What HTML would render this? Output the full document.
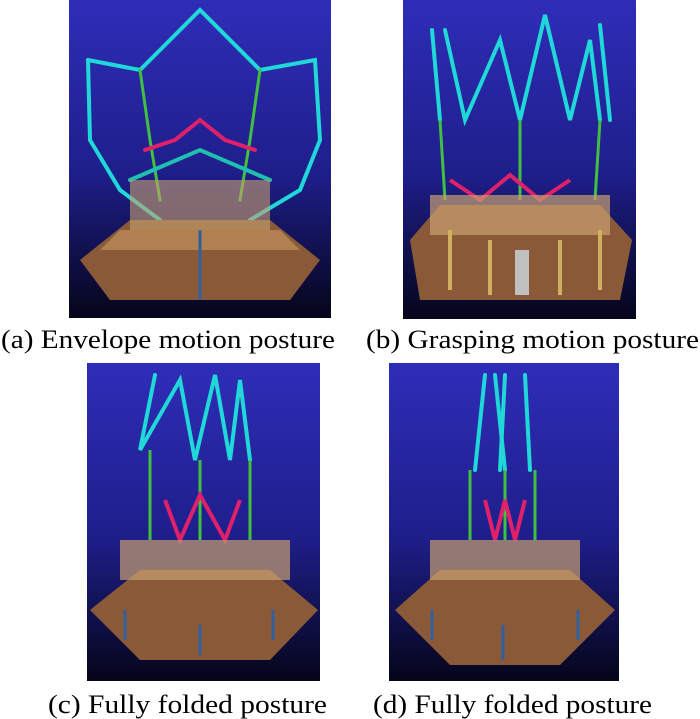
<!DOCTYPE html>
<html><head><meta charset="utf-8"><style>
html,body{margin:0;padding:0;background:#fff;width:700px;height:719px;overflow:hidden}
.cap{font-family:"Liberation Serif","Times New Roman",serif;font-size:26px;fill:#000}
</style></head><body>
<svg width="700" height="719" viewBox="0 0 700 719" xmlns="http://www.w3.org/2000/svg">
<defs>
<linearGradient id="bg" x1="0" y1="0" x2="0" y2="1">
<stop offset="0" stop-color="#2f2db8"/><stop offset="0.55" stop-color="#1e1e8a"/><stop offset="1" stop-color="#05051a"/>
</linearGradient>
</defs>
<rect x="69" y="0" width="262" height="318" fill="url(#bg)"/>
<g stroke-linecap="round" fill="none">
<polyline points="88,60 140,70 200,10 260,70 315,60 320,140" stroke="#20d8d8" stroke-width="4"/>
<polyline points="88,60 90,140 120,190 160,220" stroke="#20d8d8" stroke-width="4"/>
<polyline points="320,140 300,190 250,220" stroke="#20d8d8" stroke-width="4"/>
<polyline points="140,70 150,140 160,200" stroke="#40c040" stroke-width="3"/>
<polyline points="260,70 250,140 240,200" stroke="#40c040" stroke-width="3"/>
<polyline points="145,150 175,140 200,120 225,140 255,150" stroke="#e0206a" stroke-width="4"/>
<polyline points="130,180 200,150 270,180" stroke="#20c0b0" stroke-width="4"/>
</g>
<polygon points="80,260 130,220 270,220 320,260 290,300 110,300" fill="#8a5a38"/>
<polygon points="120,230 280,230 300,250 100,250" fill="#b08050"/>
<rect x="130" y="180" width="140" height="50" fill="#c8a070" opacity="0.6"/>
<line x1="200" y1="230" x2="200" y2="300" stroke="#3060a0" stroke-width="3"/>
<rect x="403" y="0" width="233" height="319" fill="url(#bg)"/>
<g stroke-linecap="round" fill="none" stroke="#20d8d8" stroke-width="4">
<polyline points="445,30 465,120 500,40 520,120 545,15 570,120 590,40 600,120"/>
<polyline points="432,30 440,120"/>
<polyline points="600,25 610,120"/>
</g>
<g stroke="#40c040" stroke-width="3"><line x1="440" y1="120" x2="445" y2="200"/><line x1="520" y1="120" x2="520" y2="200"/><line x1="600" y1="120" x2="595" y2="200"/></g>
<polyline points="450,180 480,200 510,175 540,200 570,180" stroke="#e0206a" stroke-width="4" fill="none"/>
<polygon points="410,240 440,205 600,205 632,240 620,300 420,300" fill="#8a5a38"/>
<rect x="430" y="195" width="180" height="40" fill="#c8a070" opacity="0.7"/>
<g stroke="#d0b060" stroke-width="4"><line x1="450" y1="230" x2="450" y2="290"/><line x1="490" y1="240" x2="490" y2="295"/><line x1="560" y1="240" x2="560" y2="295"/><line x1="600" y1="230" x2="600" y2="290"/></g>
<rect x="515" y="250" width="14" height="45" fill="#c0c0c0"/>
<rect x="87" y="363" width="233" height="318" fill="url(#bg)"/>
<g stroke-linecap="round" fill="none" stroke="#20d8d8" stroke-width="4">
<polyline points="155,375 140,450 180,380 195,460 215,375 230,460 240,380 250,460"/>
</g>
<g stroke="#40c040" stroke-width="3"><line x1="150" y1="450" x2="150" y2="540"/><line x1="200" y1="460" x2="200" y2="540"/><line x1="250" y1="460" x2="250" y2="540"/></g>
<polyline points="165,500 180,540 200,495 225,540 240,500" stroke="#e0206a" stroke-width="4" fill="none"/>
<polygon points="90,610 140,570 270,570 318,610 270,660 140,660" fill="#8a5a38"/>
<rect x="120" y="540" width="170" height="40" fill="#c8a070" opacity="0.7"/>
<g stroke="#3060a0" stroke-width="3"><line x1="125" y1="610" x2="125" y2="640"/><line x1="200" y1="625" x2="200" y2="655"/><line x1="273" y1="610" x2="273" y2="640"/></g>
<rect x="389" y="363" width="230" height="318" fill="url(#bg)"/>
<g stroke-linecap="round" fill="none" stroke="#20d8d8" stroke-width="4">
<polyline points="485,375 475,470"/><polyline points="505,375 500,470"/><polyline points="525,375 530,470"/><polyline points="495,375 505,470"/>
</g>
<g stroke="#40c040" stroke-width="3"><line x1="470" y1="470" x2="470" y2="540"/><line x1="505" y1="470" x2="505" y2="540"/><line x1="535" y1="470" x2="535" y2="540"/></g>
<polyline points="485,500 495,540 505,500 515,540 525,500" stroke="#e0206a" stroke-width="4" fill="none"/>
<polygon points="395,610 440,570 570,570 615,610 560,665 450,665" fill="#8a5a38"/>
<rect x="430" y="540" width="150" height="40" fill="#c8a070" opacity="0.7"/>
<g stroke="#3060a0" stroke-width="3"><line x1="432" y1="610" x2="432" y2="640"/><line x1="503" y1="625" x2="503" y2="660"/><line x1="578" y1="610" x2="578" y2="640"/></g>
<text class="cap" x="1" y="348" textLength="334" lengthAdjust="spacingAndGlyphs">(a) Envelope motion posture</text>
<text class="cap" x="366" y="348" textLength="333" lengthAdjust="spacingAndGlyphs">(b) Grasping motion posture</text>
<text class="cap" x="48" y="713" textLength="279" lengthAdjust="spacingAndGlyphs">(c) Fully folded posture</text>
<text class="cap" x="373" y="713" textLength="279" lengthAdjust="spacingAndGlyphs">(d) Fully folded posture</text>
</svg>
</body></html>
